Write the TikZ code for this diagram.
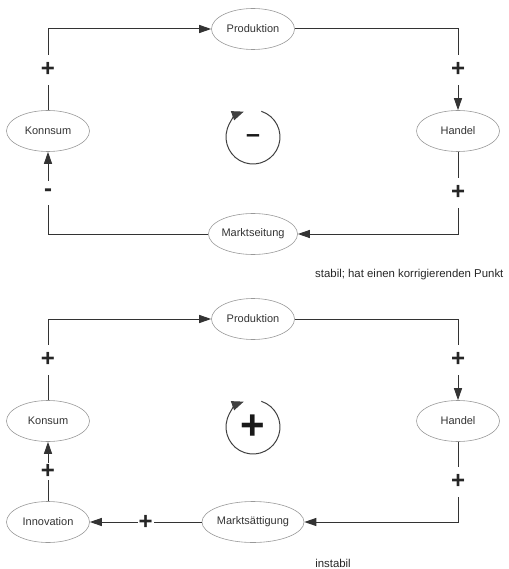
\documentclass[tikz,border=0pt]{standalone}
\usepackage{fontspec}
\setmainfont{Liberation Sans}
\usetikzlibrary{shapes.geometric}
\usetikzlibrary{arrows.meta}

\tikzset{
    factor/.style={ellipse, draw=black!40, line width=0.6pt, minimum width=83pt,
        minimum height=41pt, inner sep=0pt, text=black!80,
        font=\fontsize{11}{13}\selectfont},
    link/.style={draw=black!80, line width=1pt,
        -{Triangle[length=12pt,width=8pt]}},
    sign/.style={fill=white, inner xsep=1pt, inner ysep=8pt, text=black!85,
        font=\bfseries\fontsize{24}{24}\selectfont},
    turn/.style={draw=black!75, line width=1pt,
        -{Triangle[length=12pt,width=9.5pt]}},
    loopsign/.style={text=black!90, font=\bfseries\fontsize{42}{42}\selectfont},
    note/.style={inner sep=0pt, text=black!85, font=\fontsize{11.4}{14}\selectfont}
}

\begin{document}
\begin{tikzpicture}[x=1pt, y=1pt]
    \useasboundingbox (0,0) rectangle (508,-569);

    %stabil
    \node[factor] (prod1) at (253,-29) {Produktion};
    \node[factor] (kon1) at (48,-131) {Konnsum};
    \node[factor] (han1) at (458,-131) {Handel};
    \node[factor] (mark1) at (253,-234) {Marktseitung};

    \draw[link] (kon1.north) |- node[sign, pos=0.25] {+} (prod1.west);
    \draw[link] (prod1.east) -| node[sign, pos=0.75] {+} (han1.north);
    \draw[link] (han1.south) |- node[sign, pos=0.25] {+} (mark1.east);
    \draw[link] (mark1.west) -| node[sign, pos=0.75] {-} (kon1.south);

    \draw[turn] (253,-137) ++(72:27) arc[start angle=72, end angle=-250, radius=27];
    \node[loopsign, font=\bfseries\fontsize{25}{25}\selectfont] (sgn1) at (253,-139) {–};

    \node[note, anchor=west] (txt1) at (315,-275) {stabil; hat einen korrigierenden Punkt};

    %instabil
    \node[factor] (prod2) at (253,-319) {Produktion};
    \node[factor] (kon2) at (48,-421) {Konsum};
    \node[factor] (han2) at (458,-421) {Handel};
    \node[factor] (satt) at (253,-522) {Marktsättigung};
    \node[factor] (inno) at (48,-522) {Innovation};

    \draw[link] (kon2.north) |- node[sign, pos=0.25] {+} (prod2.west);
    \draw[link] (prod2.east) -| node[sign, pos=0.75] {+} (han2.north);
    \draw[link] (han2.south) |- node[sign, pos=0.25] {+} (satt.east);
    \draw[link] (satt.west) -- node[sign] {+} (inno.east);
    \draw[link] (inno.north) -- node[sign, inner ysep=1pt] {+} (kon2.south);

    \draw[turn] (253,-427) ++(72:27) arc[start angle=72, end angle=-250, radius=27];
    \node[loopsign] (sgn2) at (253,-427) {+};

    \node[note] (txt2) at (333,-563) {instabil};
\end{tikzpicture}
\end{document}
